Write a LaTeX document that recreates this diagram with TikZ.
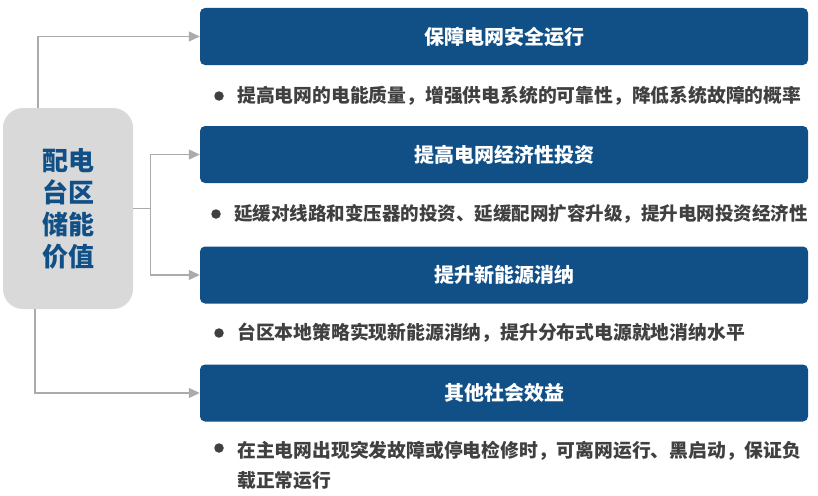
\documentclass[tikz,border=0pt]{standalone}
\usepackage{fontspec}
\setmainfont{Noto Sans CJK SC}
\usetikzlibrary{arrows.meta, positioning}
\definecolor{bleu}{HTML}{114F87}
\definecolor{grisfond}{HTML}{D9D9D9}
\definecolor{gristexte}{HTML}{404040}
\definecolor{grisfleche}{HTML}{ABABAB}
\tikzstyle{fleche} = [-{Triangle[length=11pt,width=10pt]},color=grisfleche,line width=1.2pt]
\tikzstyle{bandeau} = [fill=bleu,rounded corners=5pt,minimum width=608pt,minimum height=57pt,text=white,font=\bfseries\fontsize{20}{24}\selectfont]
\tikzstyle{puce} = [circle,fill=gristexte,inner sep=0pt,minimum size=9.5pt]
\tikzstyle{texte} = [anchor=west,text=gristexte,align=left,inner sep=0pt,font=\bfseries\fontsize{18.8}{30}\selectfont]

\begin{document}
\begin{tikzpicture}[x=1pt,y=-1pt]

	\useasboundingbox (0,0) rectangle (818,495);

	\node[fill=grisfond,rounded corners=20pt,minimum width=130pt,minimum height=201pt,
		text=bleu,align=center,font=\bfseries\fontsize{26}{32}\selectfont] (val) at (68,208.5) {配电\\台区\\储能\\价值};

	\node[bandeau] (b1) at (504,36.5) {保障电网安全运行};
	\node[bandeau] (b2) at (504,154.5) {提高电网经济性投资};
	\node[bandeau] (b3) at (504,275) {提升新能源消纳};
	\node[bandeau] (b4) at (504,393) {其他社会效益};

	\node[puce] (p1) at (219,96) {};
	\node[texte] (t1) at (237,96) {提高电网的电能质量，增强供电系统的可靠性，降低系统故障的概率};

	\node[puce] (p2) at (216,214) {};
	\node[texte,font=\bfseries\fontsize{18.5}{30}\selectfont] (t2) at (234,214) {延缓对线路和变压器的投资、延缓配网扩容升级，提升电网投资经济性};

	\node[puce] (p3) at (219,333) {};
	\node[texte] (t3) at (237,333) {台区本地策略实现新能源消纳，提升分布式电源就地消纳水平};

	\node[puce] (p4) at (219,448) {};
	\node[texte] (t4) at (237,465) {在主电网出现突发故障或停电检修时，可离网运行、黑启动，保证负\\载正常运行};

	\draw[fleche] ([xshift=-30pt]val.north) |- (b1.west);
	\draw[color=grisfleche,line width=1.2pt] (val.east) -- ++(17,0) coordinate (j);
	\draw[fleche] (j) |- (b2.west);
	\draw[fleche] (j) |- (b3.west);
	\draw[fleche] ([xshift=-33pt]val.south) |- (b4.west);

\end{tikzpicture}
\end{document}
